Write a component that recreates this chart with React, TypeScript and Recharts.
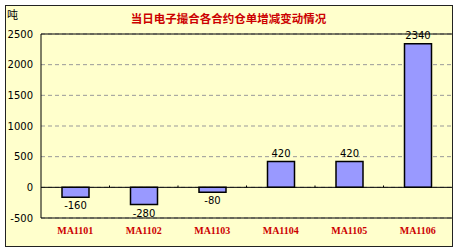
import React from "react";
import { ComposedChart, Bar, XAxis, YAxis, CartesianGrid, ReferenceLine, LabelList } from "recharts";

const categories = ["MA1101", "MA1102", "MA1103", "MA1104", "MA1105", "MA1106"];
const values = [-160, -280, -80, 420, 420, 2340];
const yTicks = [-500, 0, 500, 1000, 1500, 2000, 2500];
const title = "当日电子撮合各合约仓单增减变动情况";
const unit = "吨";

const data = categories.map((c, i) => ({ idx: i + 1, name: c, value: values[i] }));
const xTicks = categories.map((_, i) => i + 1);
const boundaries = categories.slice(1).map((_, i) => i + 1.5);

const renderLabel = (props: any) => {
  const { x, y, width, height, value } = props;
  const top = Math.min(y, y + height);
  const bottom = Math.max(y, y + height);
  const cx = x + width / 2;
  const ty = value < 0 ? bottom + 12 : top - 5;
  return (
    <text x={cx} y={ty} textAnchor="middle" fontSize={10} fontFamily="DejaVu Sans, sans-serif" fill="#000">
      {value}
    </text>
  );
};

export default function App() {
  return (
    <div style={{ position: "absolute", left: 0, top: 0, width: 457, height: 250, background: "#fff" }}>
      <div
        style={{
          position: "absolute",
          left: 5,
          top: 5,
          width: 448,
          height: 242,
          boxSizing: "border-box",
          border: "1px solid #222",
          background: "#FFFFCC",
        }}
      />
      <div
        style={{
          position: "absolute",
          left: 0,
          top: 10,
          width: 457,
          textAlign: "center",
          color: "#CC0000",
          fontWeight: "bold",
          fontSize: 11.5,
          fontFamily: "'Noto Sans CJK SC', sans-serif",
          lineHeight: "16px",
        }}
      >
        {title}
      </div>
      <div
        style={{
          position: "absolute",
          left: 7,
          top: 6,
          color: "#000",
          fontSize: 11,
          fontFamily: "'Noto Sans CJK SC', sans-serif",
          lineHeight: "16px",
        }}
      >
        {unit}
      </div>
      <div style={{ position: "absolute", left: 0, top: 0 }}>
        <ComposedChart width={457} height={250} data={data} margin={{ top: 34, right: 5, bottom: 0, left: 0 }}>
          <CartesianGrid vertical={false} stroke="#999" strokeDasharray="4 3" />
          <XAxis
            type="number"
            dataKey="idx"
            domain={[0.5, 6.5]}
            ticks={xTicks}
            tickFormatter={(v: number) => categories[v - 1]}
            axisLine={{ stroke: "#000" }}
            tickLine={false}
            tickMargin={3}
            height={32}
            interval={0}
            allowDataOverflow
            tick={{ fill: "#CC0000", fontSize: 10, fontWeight: "bold", fontFamily: "Liberation Serif, serif" }}
          />
          <YAxis
            domain={[-500, 2500]}
            ticks={yTicks}
            width={41}
            axisLine={{ stroke: "#000" }}
            tickLine={false}
            interval={0}
            tick={{ fill: "#000", fontSize: 10, fontFamily: "DejaVu Sans, sans-serif" }}
          />
          <ReferenceLine y={2500} stroke="#000" />
          <ReferenceLine y={0} stroke="#000" />
          {boundaries.map((b) => (
            <ReferenceLine
              key={b}
              segment={[
                { x: b, y: 0 },
                { x: b, y: 30 },
              ]}
              stroke="#000"
            />
          ))}
          <Bar dataKey="value" fill="#9999FF" stroke="#000" strokeWidth={1.5} barSize={27} isAnimationActive={false}>
            <LabelList dataKey="value" content={renderLabel} />
          </Bar>
        </ComposedChart>
      </div>
    </div>
  );
}
